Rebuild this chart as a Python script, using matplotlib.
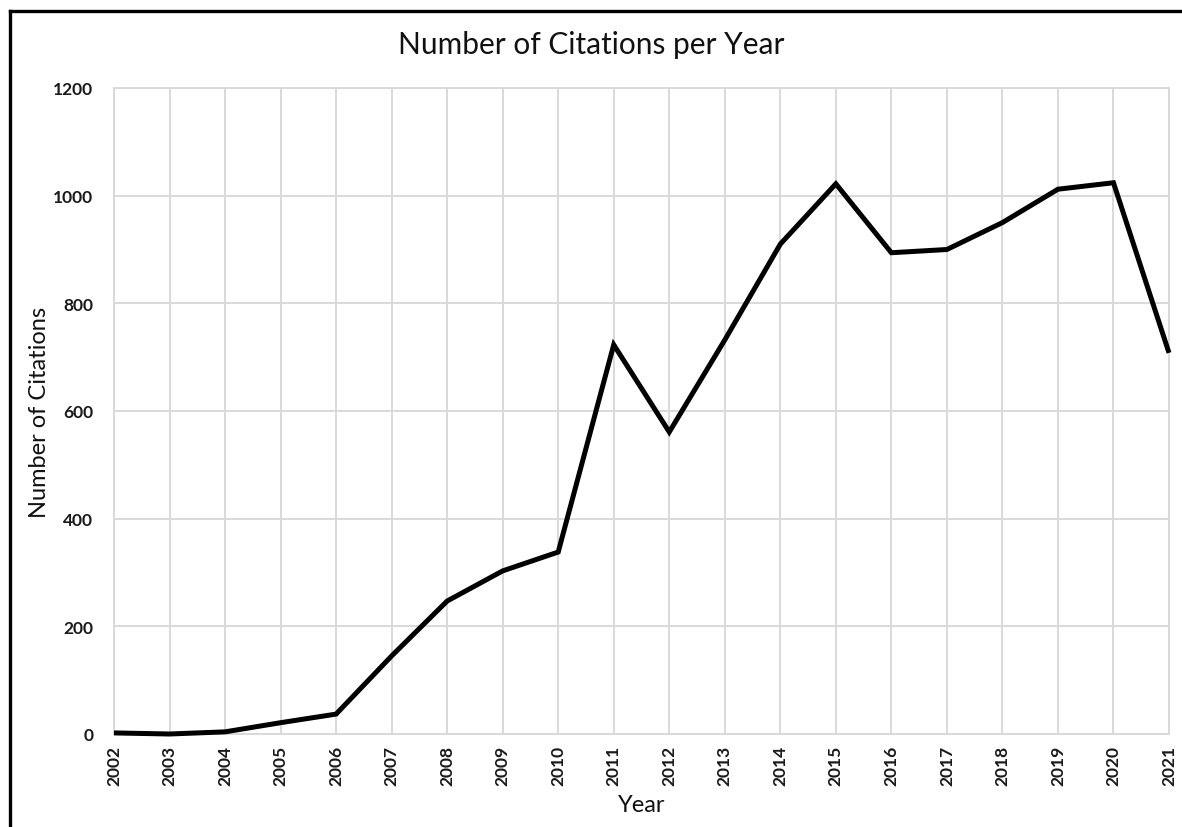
import matplotlib
matplotlib.use("Agg")
import matplotlib.pyplot as plt
from matplotlib.lines import Line2D

plt.rcParams['font.family'] = ['Lato', 'DejaVu Sans']

years = [2002, 2003, 2004, 2005, 2006, 2007, 2008, 2009, 2010, 2011,
         2012, 2013, 2014, 2015, 2016, 2017, 2018, 2019, 2020, 2021]
citations = [2, 0, 4, 21, 37, 145, 247, 303, 338, 723,
             561, 732, 910, 1022, 894, 900, 950, 1012, 1024, 708]
y_ticks = [0, 200, 400, 600, 800, 1000, 1200]

fig = plt.figure(figsize=(11.82, 8.28), dpi=100)
ax = fig.add_axes([114 / 1182, 1 - 735 / 828, (1169 - 114) / 1182, (735 - 89) / 828])

grid_color = '#d9d9d9'
ax.plot(years, citations, color='black', lw=3.6, solid_joinstyle='miter',
        solid_capstyle='butt', zorder=3, clip_on=False)

ax.set_xlim(years[0], years[-1])
ax.set_ylim(0, 1200)
ax.set_xticks(years)
ax.set_xticklabels([str(y) for y in years], rotation=90)
ax.set_yticks(y_ticks)
ax.grid(True, color=grid_color, lw=1.4, zorder=0)
ax.set_axisbelow(True)
for side in ax.spines.values():
    side.set_color(grid_color)
    side.set_linewidth(1.4)
ax.tick_params(axis='both', length=0, labelsize=12.5, colors='#1a1a1a')
ax.tick_params(axis='y', pad=15)
ax.tick_params(axis='x', pad=8)
for lbl in ax.get_xticklabels() + ax.get_yticklabels():
    lbl.set_fontweight('bold')

ax.set_xlabel('Year', fontsize=17, labelpad=6, color='#111111')
ax.set_ylabel('Number of Citations', fontsize=17, color='#111111')
ax.yaxis.set_label_coords(-(114 - 50) / (1169 - 114), 0.5)
fig.text((398 + 785) / 2 / 1182, 1 - 45 / 828, 'Number of Citations per Year',
         ha='center', va='center', fontsize=21.5, color='#111111')

# frame around the chart
fig.add_artist(Line2D([10 / 1182, 1.0], [1 - 12 / 828, 1 - 12 / 828],
                      transform=fig.transFigure, color='black', lw=2.4))
fig.add_artist(Line2D([10 / 1182, 10 / 1182], [0.0, 1 - 12 / 828],
                      transform=fig.transFigure, color='black', lw=2.4))

fig.savefig('out.png', dpi=100)
